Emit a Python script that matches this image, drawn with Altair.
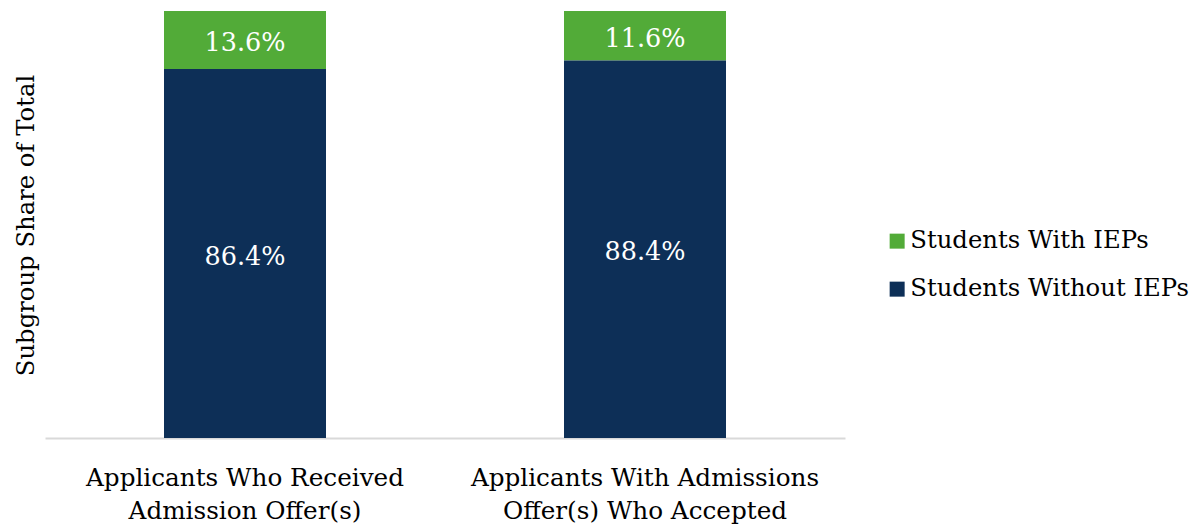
import altair as alt
import pandas as pd

categories = ["Applicants Who Received|Admission Offer(s)",
              "Applicants With Admissions|Offer(s) Who Accepted"]
groups = ["Students With IEPs", "Students Without IEPs"]
with_iep = [13.6, 11.6]
without_iep = [86.4, 88.4]
colors = ["#52AB38", "#0D2F57"]

rows = []
for i, c in enumerate(categories):
    rows.append({"category": c, "group": groups[0], "value": with_iep[i], "ord": 2})
    rows.append({"category": c, "group": groups[1], "value": without_iep[i], "ord": 1})
df = pd.DataFrame(rows)

FONT = "DejaVu Serif"

base = alt.Chart(df).transform_stack(
    stack="value", groupby=["category"], as_=["y0", "y1"],
    sort=[alt.SortField("ord", order="ascending")]
).transform_calculate(
    mid="(datum.y0 + datum.y1) / 2",
    lbl="format(datum.value, '.1f') + '%'"
)

xenc = alt.X("category:N", sort=categories,
             scale=alt.Scale(paddingInner=0, paddingOuter=0),
             axis=alt.Axis(title=None, labelExpr="split(datum.label, '|')",
                           labelAngle=0, labelFont=FONT, labelFontSize=24.7,
                           labelColor="#000000", labelLineHeight=33,
                           labelBaseline="alphabetic", labelPadding=47,
                           ticks=False, domainColor="#D9D9D9", domainWidth=2,
                           labelLimit=0))

bars = base.mark_bar(size=162).encode(
    x=xenc,
    y=alt.Y("y0:Q", scale=alt.Scale(domain=[0, 100], nice=False),
            axis=alt.Axis(title="Subgroup Share of Total", labels=False, ticks=False,
                          domain=False, grid=False, titleFont=FONT, titleFontSize=24.3,
                          titleFontWeight="normal", titleColor="#000000",
                          titleX=-12, titleY=214, titleAngle=-90,
                          titleBaseline="alphabetic", titleAlign="center")),
    y2="y1:Q",
    color=alt.Color("group:N", sort=groups,
                    scale=alt.Scale(domain=groups, range=colors),
                    legend=alt.Legend(title=None, orient="none", legendX=840, legendY=218,
                                      symbolType="square", symbolSize=225,
                                      symbolStrokeWidth=0, labelFont=FONT,
                                      labelFontSize=24.3, labelColor="#000000",
                                      rowPadding=23, labelOffset=1, labelLimit=0)),
)

texts = base.mark_text(font=FONT, fontSize=25.5, color="white", baseline="middle", dy=3).encode(
    x=alt.X("category:N", sort=categories),
    y=alt.Y("mid:Q"),
    text="lbl:N",
)

chart = alt.layer(bars, texts).properties(
    width=800, height=427,
    padding={"left": 45, "top": 11, "right": 356, "bottom": 89},
    autosize=alt.AutoSizeParams(type="none"),
    background="white",
).configure_view(strokeWidth=0, stroke="transparent")

chart.save("out.html", embed_options={"renderer": "svg", "actions": False})
